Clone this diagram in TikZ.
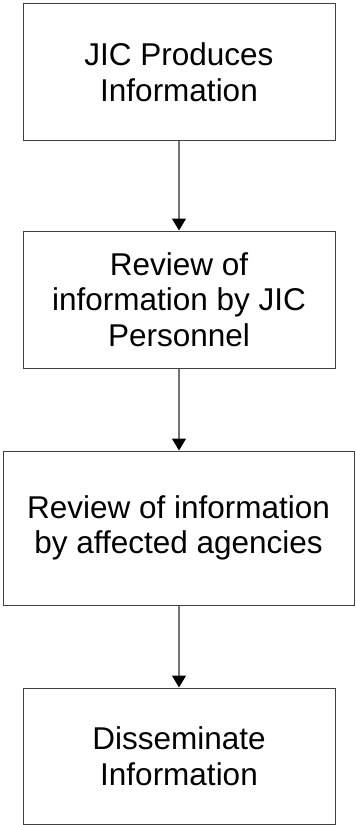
\documentclass[tikz,border=0pt]{standalone}
\usepackage{fontspec}
\setmainfont{Liberation Sans}
\usetikzlibrary{arrows.meta}
\begin{document}
\begin{tikzpicture}[x=1pt,y=-1pt,
  stepbox/.style={draw=black!75, line width=1pt, fill=white, inner sep=0pt,
    align=center, font=\fontsize{31.5}{35.5}\selectfont},
  flow/.style={draw=black!55, line width=1.2pt,
    -{Triangle[width=14pt,length=12pt,color=black]}}]
  \useasboundingbox (0,0) rectangle (356,825);
  \node[stepbox, minimum width=312pt, minimum height=136.5pt] (b1) at (179,72)
    {JIC Produces\\Information};
  \node[stepbox, minimum width=312pt, minimum height=137pt] (b2) at (179,299.5)
    {Review of\\information by JIC\\Personnel};
  \node[stepbox, minimum width=351pt, minimum height=154pt] (b3) at (178.5,528)
    {Review of information\\by affected agencies};
  \node[stepbox, minimum width=312pt, minimum height=136pt] (b4) at (179,756)
    {Disseminate\\Information};
  \draw[flow] (b1.south) -- (b2.north);
  \draw[flow] (b2.south) -- (b2.south |- b3.north);
  \draw[flow] (b4.north |- b3.south) -- (b4.north);
\end{tikzpicture}
\end{document}
